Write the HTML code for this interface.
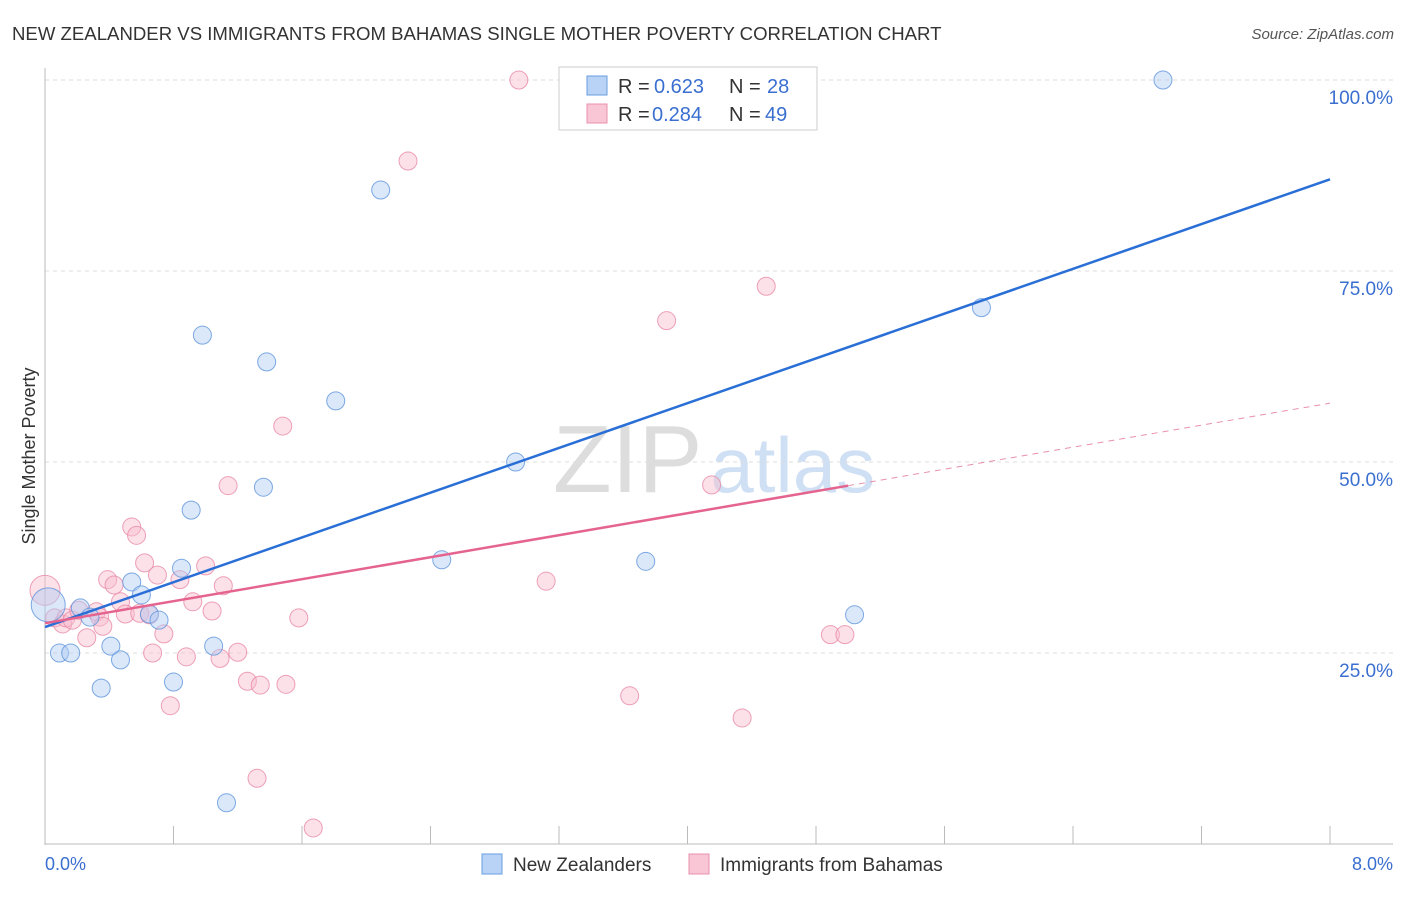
<!DOCTYPE html>
<html><head><meta charset="utf-8"><style>
body{margin:0;background:#fff;font-family:"Liberation Sans",sans-serif}
svg text{font-family:"Liberation Sans",sans-serif}
</style></head><body>
<svg width="1406" height="892">
<text x="12" y="40" font-size="18.6" fill="#333">NEW ZEALANDER VS IMMIGRANTS FROM BAHAMAS SINGLE MOTHER POVERTY CORRELATION CHART</text>
<text x="1394" y="39" font-size="15" fill="#555" text-anchor="end" font-style="italic">Source: ZipAtlas.com</text>
<text x="553" y="492" font-size="96" fill="#ddd" font-family="Liberation Serif">ZIP<tspan dx="8" fill="#cfe0f5" font-family="Liberation Sans" font-size="78">atlas</tspan></text>
<g id="grid"></g>
<line x1="45" y1="68" x2="45" y2="845" stroke="#bbb"/>
<line x1="45" y1="844" x2="1393" y2="844" stroke="#bbb"/>
<g id="ticks"></g>
<text x="35" y="456" font-size="18" fill="#333" text-anchor="middle" transform="rotate(-90 35 456)">Single Mother Poverty</text>
<text x="45" y="870" font-size="18" fill="#3a6fd0">0.0%</text>
<text x="1393" y="870" font-size="18" fill="#3a6fd0" text-anchor="end">8.0%</text>
<g id="pts"></g>
<g id="lines"></g>
<g>
<rect x="559" y="67" width="258" height="63" fill="#fff" stroke="#ccc"/>
<rect x="587" y="76" width="20" height="19" fill="#b8d3f5" stroke="#6a9ee0"/>
<rect x="587" y="104" width="20" height="19" fill="#f8c6d5" stroke="#e890ad"/>
<text x="618" y="93" font-size="20" fill="#333">R =</text><text x="654" y="93" font-size="20" fill="#3a6fd0">0.623</text>
<text x="729" y="93" font-size="20" fill="#333">N =</text><text x="767" y="93" font-size="20" fill="#3a6fd0">28</text>
<text x="618" y="121" font-size="20" fill="#333">R =</text><text x="652" y="121" font-size="20" fill="#3a6fd0">0.284</text>
<text x="729" y="121" font-size="20" fill="#333">N =</text><text x="765" y="121" font-size="20" fill="#3a6fd0">49</text>
</g>
<g>
<rect x="482" y="854" width="20" height="20" fill="#b8d3f5" stroke="#6a9ee0"/>
<text x="513" y="871" font-size="19" fill="#333">New Zealanders</text>
<rect x="689" y="854" width="20" height="20" fill="#f8c6d5" stroke="#e890ad"/>
<text x="720" y="871" font-size="19" fill="#333">Immigrants from Bahamas</text>
</g>
</svg>
<script>
const yTicks=[25,50,75,100];
const yTickLabels=["25.0%","50.0%","75.0%","100.0%"];
const xTicks=[0,0.8,1.6,2.4,3.2,4.0,4.8,5.6,6.4,7.2,8.0];
const blueX=[0.02,0.09,0.16,0.22,0.28,0.35,0.41,0.47,0.54,0.60,0.65,0.71,0.80,0.85,0.91,0.98,1.05,1.13,1.36,1.38,1.81,2.09,2.47,2.93,3.74,5.04,5.83,6.96];
const blueY=[31.3,25.0,25.0,30.9,29.7,20.4,25.9,24.1,34.3,32.6,30.1,29.3,21.2,36.1,43.7,66.6,25.9,5.4,46.7,63.1,58.0,85.6,37.2,50.0,37.0,30.0,70.2,100.0];
const pinkX=[0,0.06,0.11,0.13,0.17,0.21,0.26,0.32,0.34,0.36,0.39,0.43,0.47,0.50,0.54,0.57,0.59,0.62,0.67,0.70,0.74,0.78,0.84,0.88,0.92,1.00,1.04,1.09,1.11,1.14,1.20,1.26,1.32,1.34,1.48,1.50,1.58,1.67,2.26,2.95,3.12,3.64,3.87,4.15,4.34,4.49,4.89,4.98,0.65];
const pinkY=[33.2,29.6,28.8,29.6,29.3,30.6,27.0,30.4,29.7,28.5,34.6,33.9,31.7,30.1,41.5,40.4,30.2,36.8,25.0,35.2,27.5,18.1,34.6,24.5,31.7,36.4,30.5,24.3,33.8,46.9,25.1,21.3,8.6,20.8,54.7,20.9,29.6,2.1,89.4,100.0,34.4,19.4,68.5,47.0,16.5,73.0,27.4,27.4,30.0];
const blueFit=[28.4,87.0];
const pinkFit=[28.9,57.7];
const pinkSolidEnd=5.0;
const X=v=>45+v/8*1285, Y=v=>844-v/100*764;
const NS="http://www.w3.org/2000/svg";
function mk(t,a,p){const e=document.createElementNS(NS,t);for(const k in a)e.setAttribute(k,a[k]);document.getElementById(p).appendChild(e);return e;}
yTicks.forEach((t,i)=>{
 const l=mk('line',{x1:45,x2:1393,y1:Y(t),y2:Y(t),stroke:'#ddd','stroke-dasharray':'4,4'},'grid');
 
 
 const tx=mk('text',{x:1393,y:Y(t)+24,'font-size':19,fill:'#3a6fd0','text-anchor':'end'},'grid');
 tx.textContent=yTickLabels[i];
 
 
});
xTicks.forEach(t=>{
 const l=mk('line',{x1:X(t),x2:X(t),y1:826,y2:844,stroke:'#bbb'},'ticks');
 
 
});
function pts(xs,ys,fill,stroke,name){
 xs.forEach((x,i)=>{
  const r=(i===0)?(name==='blue-point'?17:15):9;
  const c=mk('circle',{cx:X(x),cy:Y(ys[i]),r:r,fill:fill,'fill-opacity':0.45,stroke:stroke,'stroke-opacity':0.8,'stroke-width':1},'pts');
  
  
 });
}
pts(pinkX,pinkY,'#f8bccf','#e88aa8','pink-point');
pts(blueX,blueY,'#b0cdf3','#5f95dc','blue-point');
let ln=mk('line',{x1:X(0),y1:Y(blueFit[0]),x2:X(8),y2:Y(blueFit[1]),stroke:'#2a6fd6','stroke-width':2.5},'lines');


const py=x=>pinkFit[0]+(pinkFit[1]-pinkFit[0])*x/8;
ln=mk('line',{x1:X(0),y1:Y(py(0)),x2:X(pinkSolidEnd),y2:Y(py(pinkSolidEnd)),stroke:'#e5648f','stroke-width':2.5},'lines');


ln=mk('line',{x1:X(pinkSolidEnd),y1:Y(py(pinkSolidEnd)),x2:X(8),y2:Y(py(8)),stroke:'#e890ad','stroke-width':1,'stroke-dasharray':'6,5'},'lines');


</script>
</body></html>
